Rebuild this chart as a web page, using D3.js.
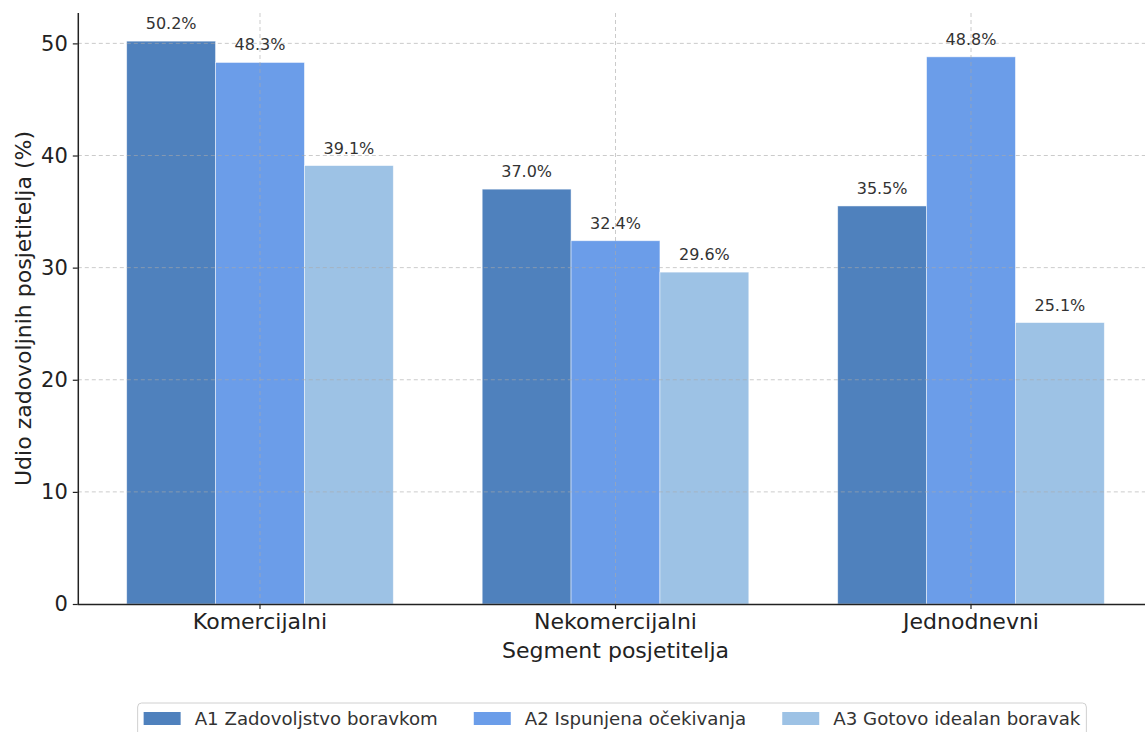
<!DOCTYPE html>
<html>
<head>
<meta charset="utf-8">
<script src="https://cdn.jsdelivr.net/npm/d3@7"></script>
<style>
  body { margin: 0; background: #fff; }
  svg { display: block; font-family: "DejaVu Sans", sans-serif; }
</style>
</head>
<body>
<div id="chart"></div>
<script>
(function () {

  // Data
  const segments = ["Komercijalni", "Nekomercijalni", "Jednodnevni"];
  const series = ["A1 Zadovoljstvo boravkom", "A2 Ispunjena očekivanja", "A3 Gotovo idealan boravak"];
  const a1 = [50.2, 37.0, 35.5];
  const a2 = [48.3, 32.4, 48.8];
  const a3 = [39.1, 29.6, 25.1];
  const yTicks = [0, 10, 20, 30, 40, 50];
  const colors = ["#4f81bd", "#6b9de9", "#9dc2e5"];

  const values = [a1, a2, a3];
  const rows = [];
  segments.forEach((s, i) => {
    series.forEach((k, j) => rows.push({ segment: s, key: k, idx: j, value: values[j][i] }));
  });

  const W = 1145, H = 732;
  const left = 77.8, right = 1153.2, top = 13, bottom = 604;

  const svg = d3.select("#chart")
    .append("svg")
    .attr("width", W)
    .attr("height", H);

  const x = d3.scaleBand()
    .domain(segments)
    .range([left, right])
    .paddingInner(0.25)
    .paddingOuter(0.1375);

  const xInner = d3.scaleBand()
    .domain(series)
    .range([0, x.bandwidth()]);

  const y = d3.scaleLinear()
    .domain([0, 52.71])
    .range([bottom, top]);

  // Bars
  svg.append("g")
    .selectAll("rect")
    .data(rows)
    .enter()
    .append("rect")
    .attr("x", d => x(d.segment) + xInner(d.key))
    .attr("y", d => y(d.value))
    .attr("width", xInner.bandwidth())
    .attr("height", d => y(0) - y(d.value))
    .attr("fill", d => colors[d.idx])
    .attr("stroke", "#ffffff")
    .attr("stroke-opacity", 0.6)
    .attr("stroke-width", 0.8);

  // Grid (drawn above bars)
  const grid = svg.append("g")
    .attr("stroke", "#a8a8a8")
    .attr("stroke-opacity", 0.6)
    .attr("stroke-width", 1)
    .attr("stroke-dasharray", "4,3");

  grid.selectAll(".hg")
    .data(yTicks.slice(1))
    .enter()
    .append("line")
    .attr("x1", left)
    .attr("x2", W)
    .attr("y1", d => y(d))
    .attr("y2", d => y(d));

  grid.selectAll(".vg")
    .data(segments)
    .enter()
    .append("line")
    .attr("x1", d => x(d) + x.bandwidth() / 2)
    .attr("x2", d => x(d) + x.bandwidth() / 2)
    .attr("y1", top)
    .attr("y2", bottom);

  // Value labels
  svg.append("g")
    .selectAll("text")
    .data(rows)
    .enter()
    .append("text")
    .attr("x", d => x(d.segment) + xInner(d.key) + xInner.bandwidth() / 2)
    .attr("y", d => y(d.value) - 12)
    .attr("text-anchor", "middle")
    .style("font-size", "16px")
    .attr("fill", "#333")
    .text(d => d.value.toFixed(1) + "%");

  // Axes
  const yAxis = svg.append("g")
    .attr("transform", `translate(${left},0)`)
    .call(d3.axisLeft(y).tickValues(yTicks).tickSize(5).tickPadding(5));

  const xAxis = svg.append("g")
    .attr("transform", `translate(0,${bottom})`)
    .call(d3.axisBottom(x).tickSize(5).tickPadding(4));

  [yAxis, xAxis].forEach(g => {
    g.selectAll("text")
      .style("font-family", "DejaVu Sans")
      .attr("fill", "#222");
    g.selectAll("line").attr("stroke", "#222").attr("stroke-width", 1.2);
    g.select(".domain").attr("stroke", "#222").attr("stroke-width", 1.5);
  });
  yAxis.selectAll("text").style("font-size", "21px");
  xAxis.selectAll("text").style("font-size", "22px");
  xAxis.select(".domain").attr("d", `M${left},0.5H${W}`);
  yAxis.select(".domain").attr("d", `M0.5,${bottom}V${top}`);

  // Axis labels
  svg.append("text")
    .attr("x", (left + right) / 2)
    .attr("y", 658)
    .attr("text-anchor", "middle")
    .style("font-size", "22px")
    .attr("fill", "#222")
    .text("Segment posjetitelja");

  svg.append("text")
    .attr("transform", `translate(31,${(top + bottom) / 2}) rotate(-90)`)
    .attr("text-anchor", "middle")
    .style("font-size", "22px")
    .attr("fill", "#222")
    .text("Udio zadovoljnih posjetitelja (%)");

  // Legend
  const legend = svg.append("g");
  const box = legend.append("rect")
    .attr("y", 703)
    .attr("height", 50)
    .attr("rx", 4)
    .attr("fill", "#fff")
    .attr("stroke", "#d0d0d0")
    .attr("stroke-width", 1);

  let cx = 0;
  const items = legend.append("g");
  series.forEach((s, i) => {
    const it = items.append("g").attr("transform", `translate(${cx},0)`);
    it.append("rect")
      .attr("x", 0).attr("y", 712)
      .attr("width", 37).attr("height", 13)
      .attr("fill", colors[i]);
    const t = it.append("text")
      .attr("x", 51).attr("y", 724.5)
      .style("font-size", "18.2px")
      .attr("fill", "#333")
      .text(s);
    cx += 51 + t.node().getComputedTextLength() + 36;
  });
  const total = cx - 36;
  const lx = 612 - total / 2;
  items.attr("transform", `translate(${lx},0)`);
  box.attr("x", lx - 6).attr("width", total + 12);

})();
</script>
</body>
</html>
